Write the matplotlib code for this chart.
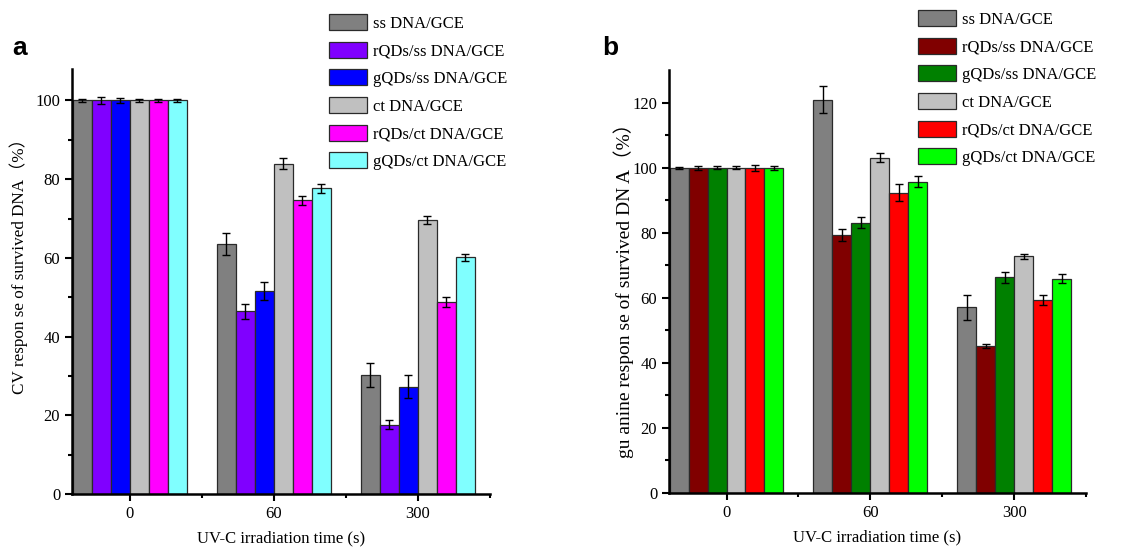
import numpy as np
import matplotlib
matplotlib.use("Agg")
from matplotlib import pyplot as plt

# --- data ---
times = ["0", "60", "300"]

labels_a = ["ss DNA/GCE", "rQDs/ss DNA/GCE", "gQDs/ss DNA/GCE",
            "ct DNA/GCE", "rQDs/ct DNA/GCE", "gQDs/ct DNA/GCE"]
colors_a = ["#808080", "#8000FF", "#0000FF", "#C0C0C0", "#FF00FF", "#80FFFF"]
# rows = series, columns = time
vals_a = [[100, 63.5, 30.3],
          [100, 46.4, 17.6],
          [100, 51.7, 27.3],
          [100, 83.9, 69.6],
          [100, 74.6, 48.8],
          [100, 77.7, 60.1]]
errs_a = [[0.5, 2.8, 3.0],
          [0.8, 2.0, 1.2],
          [0.6, 2.3, 3.0],
          [0.3, 1.4, 1.0],
          [0.5, 1.2, 1.2],
          [0.3, 1.1, 1.0]]

labels_b = ["ss DNA/GCE", "rQDs/ss DNA/GCE", "gQDs/ss DNA/GCE",
            "ct DNA/GCE", "rQDs/ct DNA/GCE", "gQDs/ct DNA/GCE"]
colors_b = ["#808080", "#800000", "#008000", "#C0C0C0", "#FF0000", "#00FF00"]
vals_b = [[100, 120.9, 57.1],
          [100, 79.4, 45.2],
          [100, 83.1, 66.3],
          [100, 103.1, 72.7],
          [100, 92.3, 59.3],
          [100, 95.7, 65.9]]
errs_b = [[0.3, 4.1, 3.9],
          [0.6, 1.8, 0.7],
          [0.5, 1.7, 1.7],
          [0.5, 1.4, 0.8],
          [0.9, 2.6, 1.6],
          [0.6, 1.7, 1.3]]

SERIF = ["Liberation Serif", "Noto Sans CJK SC"]
plt.rcParams["font.family"] = SERIF

W, H = 1146, 549
fig = plt.figure(figsize=(W / 100, H / 100), dpi=100)


def px_axes(x0, y0, x1, y1):
    # axes from pixel box (top-left origin)
    return fig.add_axes([x0 / W, 1 - y1 / H, (x1 - x0) / W, (y1 - y0) / H])


def panel(ax, vals, errs, labels, colors, ylim, ylabel, ylsize, lab_xy, leg_xy):
    x = np.arange(len(times))
    bw = 0.132
    n = len(vals)
    for i in range(n):
        off = (i - (n - 1) / 2) * bw
        ax.bar(x + off, vals[i], bw, color=colors[i], edgecolor="#2a2a2a",
               linewidth=0.9, label=labels[i], zorder=2)
        ax.errorbar(x + off, vals[i], yerr=errs[i], fmt="none", ecolor="black",
                    elinewidth=1, capsize=3, capthick=1, zorder=3)
    ax.set_xlim(-0.4, 2.5)
    ax.set_ylim(*ylim)
    ax.set_xticks(x)
    ax.set_xticklabels(times)
    ax.set_xticks([0.5, 1.5, 2.5], minor=True)
    ax.set_yticks(np.arange(0, ylim[1], 20))
    ax.set_yticks(np.arange(10, ylim[1], 20), minor=True)
    for s in ["top", "right"]:
        ax.spines[s].set_visible(False)
    for s in ["left", "bottom"]:
        ax.spines[s].set_linewidth(1.8)
    ax.tick_params(which="major", direction="out", length=5, width=1.5,
                   labelsize=12)
    ax.tick_params(which="minor", direction="out", length=3, width=1.5)
    ax.set_xlabel("UV-C irradiation time (s)", fontsize=12, labelpad=6)
    ax.set_ylabel(ylabel, fontsize=ylsize)
    ax.yaxis.set_label_coords(*lab_xy)
    ax.legend(loc="upper left", bbox_to_anchor=leg_xy,
              bbox_transform=fig.transFigure, frameon=False, fontsize=12,
              handlelength=2.3, handleheight=1.1, labelspacing=0.6,
              handletextpad=0.35, borderpad=0, borderaxespad=0)


ax_a = px_axes(72, 69, 490, 494)
panel(ax_a, vals_a, errs_a, labels_a, colors_a, (0, 108),
      "CV respon se of survived DNA（%）", 12.3, (-0.105, 0.545),
      (329 / W, 1 - 14 / H))

ax_b = px_axes(669, 70, 1086, 493)
panel(ax_b, vals_b, errs_b, labels_b, colors_b, (0, 130),
      "gu anine respon se of survived DN A（%）", 14, (-0.085, 0.49),
      (918 / W, 1 - 10 / H))

fig.text(12 / W, 1 - 55 / H, "a", fontsize=19, fontweight="bold",
         family="Liberation Sans", va="baseline")
fig.text(602 / W, 1 - 55 / H, "b", fontsize=19, fontweight="bold",
         family="Liberation Sans", va="baseline")

fig.savefig("out.png", dpi=100)
